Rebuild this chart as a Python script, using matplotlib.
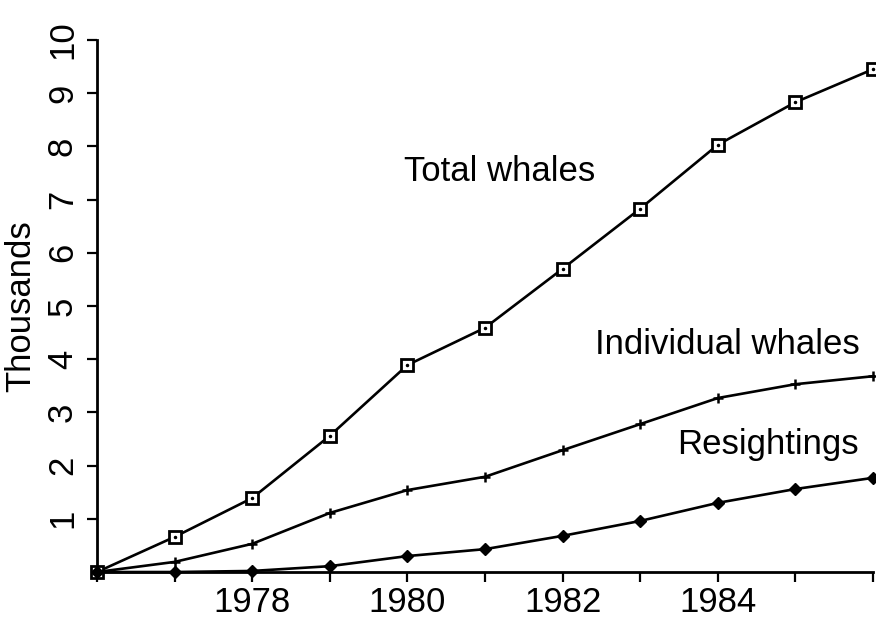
import matplotlib
matplotlib.use("Agg")
import matplotlib.pyplot as plt
from matplotlib.ticker import MultipleLocator

years = [1976, 1977, 1978, 1979, 1980, 1981, 1982, 1983, 1984, 1985, 1986]
total_whales = [0, 0.66, 1.39, 2.56, 3.89, 4.59, 5.70, 6.83, 8.03, 8.83, 9.45]
individual_whales = [0, 0.19, 0.53, 1.11, 1.54, 1.79, 2.29, 2.78, 3.27, 3.53, 3.68]
resightings = [0, 0.0, 0.02, 0.11, 0.30, 0.43, 0.68, 0.96, 1.30, 1.56, 1.77]

year_ticks = [1978, 1980, 1982, 1984]
y_ticks = [1, 2, 3, 4, 5, 6, 7, 8, 9, 10]

plt.rcParams['font.family'] = ['Liberation Sans', 'DejaVu Sans']
fs = 25

fig = plt.figure(figsize=(8.76, 6.18), dpi=100)
ax = fig.add_axes([0.1107, 0.0744, 0.886, 0.861])

# total whales: open square with a dot in the middle
ax.plot(years, total_whales, color='black', lw=1.9, marker='s', ms=8,
        mfc='white', mec='black', mew=2, clip_on=False, zorder=3)
ax.plot(years, total_whales, ls='none', marker='.', ms=3, color='black',
        clip_on=False, zorder=4)
ax.plot(years, individual_whales, color='black', lw=1.9, marker='+', ms=7,
        mew=1.8, clip_on=False, zorder=3)
ax.plot(years, resightings, color='black', lw=1.9, marker='D', ms=6,
        clip_on=False, zorder=3)

ax.text(1981.19, 7.52, 'Total whales', fontsize=fs, ha='center', va='center')
ax.text(1984.12, 4.27, 'Individual whales', fontsize=fs, ha='center', va='center')
ax.text(1984.65, 2.39, 'Resightings', fontsize=fs, ha='center', va='center')

ax.set_xlim(1976, 1986)
ax.set_ylim(0, 10)
ax.set_xticks(year_ticks)
ax.xaxis.set_minor_locator(MultipleLocator(1))
ax.set_yticks(y_ticks)
ax.tick_params(axis='x', which='both', direction='out', length=7, width=1.6,
               labelsize=fs, pad=3)
ax.tick_params(axis='y', direction='out', length=7, width=1.6, labelsize=fs,
               labelrotation=90, pad=6)
for lab in ax.get_yticklabels():
    lab.set_va('center')

ax.spines['top'].set_visible(False)
ax.spines['right'].set_visible(False)
ax.spines['left'].set_linewidth(2)
ax.spines['bottom'].set_linewidth(2)
ax.set_ylabel('Thousands', fontsize=fs, labelpad=6)

fig.savefig('out.png', dpi=100)
